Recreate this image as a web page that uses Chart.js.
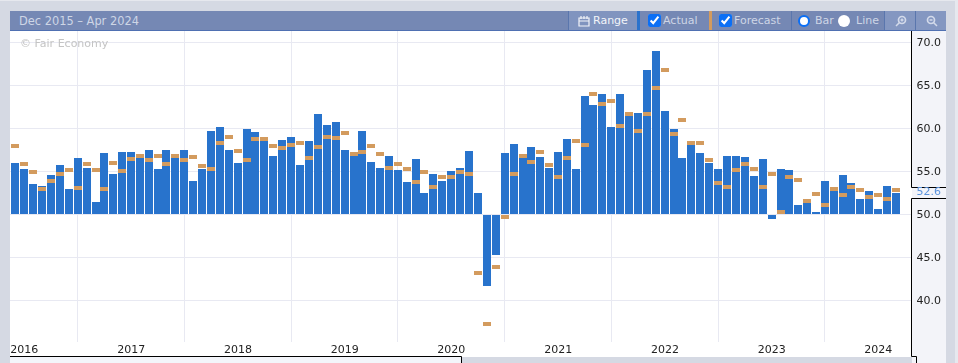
<!DOCTYPE html>
<html><head><meta charset="utf-8">
<script src="https://cdn.jsdelivr.net/npm/chart.js@4"></script>
<style>
html,body{margin:0;padding:0;width:958px;height:363px;overflow:hidden;background:#d5d9e3;font-family:"DejaVu Sans",sans-serif}
.a{position:absolute}
.t{position:absolute;font-size:11px;line-height:14px;top:14px;color:#ced6e6;white-space:nowrap}
.sep{position:absolute;top:11px;width:1px;height:19px;background:#5a76ad}
input[type=checkbox]{position:absolute;top:14px;width:13px;height:13px;margin:0;accent-color:#0b6ff5}
.radio{position:absolute;top:15px;width:12px;height:12px;border-radius:50%;box-sizing:border-box;background:#fff}
svg{position:absolute}
</style></head><body>
<div class="a" style="left:0;top:0;width:958px;height:1px;background:#e6e8ee"></div>
<div class="a" style="left:955px;top:0;width:3px;height:363px;background:#e6e8ee"></div>
<div class="a" style="left:10px;top:31px;width:902px;height:326px;background:#fff"></div>
<div class="a" style="left:912px;top:31px;width:34px;height:332px;background:#f3f4f9"></div>
<div class="a" style="left:10px;top:357px;width:452px;height:6px;background:#f3f5fa"></div>

<div class="a" style="left:10px;top:11px;width:936px;height:19px;background:#7588b4"></div>
<div class="a" style="left:10px;top:30px;width:936px;height:1px;background:#4f70b2"></div>
<div class="t" id="rangeLabel" style="left:19px;font-size:11.4px">Dec 2015 – Apr 2024</div>

<div class="a" style="left:569px;top:11px;width:68px;height:19px;background:#8094bf"></div>
<div class="sep" style="left:568px"></div>
<svg style="left:578px;top:15px" width="12" height="12" viewBox="0 0 12 12"><path d="M1 3h10v8H1zM1 6h10M3 1v3M6 1v3M9 1v3" fill="none" stroke="#f2f4f9" stroke-width="1.2"/></svg>
<div class="t" style="left:593px;color:#f2f4f9">Range</div>
<div class="a" style="left:637px;top:11px;width:3px;height:19px;background:#2a72cc"></div>
<input type="checkbox" checked style="left:648px"><div class="t" style="left:663px">Actual</div>
<div class="a" style="left:709px;top:11px;width:3px;height:19px;background:#d39b5e"></div>
<input type="checkbox" checked style="left:719px"><div class="t" style="left:734px">Forecast</div>
<div class="sep" style="left:791px"></div>
<div class="radio" style="left:798px;border:2.5px solid #0b6ff5"></div><div class="t" style="left:815px">Bar</div>
<div class="radio" style="left:838px"></div><div class="t" style="left:856px">Line</div>
<div class="a" style="left:885px;top:11px;width:30px;height:19px;background:#8497c1"></div>
<div class="a" style="left:916px;top:11px;width:30px;height:19px;background:#8497c1"></div>
<div class="sep" style="left:884px"></div><div class="sep" style="left:915px"></div>
<svg style="left:895px;top:15px" width="12" height="12" viewBox="0 0 12 12"><circle cx="7" cy="5" r="3.5" fill="none" stroke="#d3daea" stroke-width="1.7"/><path d="M4.5 7.5L1 11M5.5 5h3M7 3.5v3" stroke="#d3daea" stroke-width="1.5" fill="none"/></svg>
<svg style="left:926px;top:15px" width="12" height="12" viewBox="0 0 12 12"><circle cx="5" cy="5" r="3.5" fill="none" stroke="#d3daea" stroke-width="1.7"/><path d="M7.5 7.5L11 11M3.5 5h3" stroke="#d3daea" stroke-width="1.5" fill="none"/></svg>

<canvas id="c" class="a" style="left:10px;top:31px" width="936" height="332"></canvas>
<div class="t" style="left:20px;top:37px;color:#c4c4c4">© Fair Economy</div>

<script>
const startYear = 2015, startMonth = 11;
const actual = [
56.0,
55.3,53.6,53.4,54.6,55.8,53.0,56.6,55.5,51.5,57.2,54.8,57.3,
57.3,56.6,57.6,55.3,57.5,56.7,57.5,53.9,55.3,59.8,60.2,57.5,
56.0,60.0,59.6,58.6,56.8,58.7,59.1,55.8,58.6,61.7,60.4,60.8,
57.6,56.8,59.7,56.1,55.5,56.9,55.2,53.8,56.5,52.6,54.7,53.9,
55.1,55.5,57.4,52.5,41.7,45.3,57.2,58.2,56.6,57.9,56.7,55.5,
57.3,58.8,55.3,63.8,62.8,64.0,60.2,64.1,61.5,61.9,66.8,69.1,
62.1,60.0,56.6,58.2,57.2,56.0,55.3,56.8,56.9,56.7,54.5,56.5,
49.5,55.3,55.2,51.2,51.9,50.3,53.9,52.8,54.6,53.7,51.8,52.8,
50.7,53.4,52.6];
const forecast = [
58.0,
55.9,55.0,53.0,53.9,54.7,55.2,53.1,55.9,55.2,53.0,56.0,55.1,
56.5,56.8,56.4,56.8,55.9,56.9,56.4,56.7,55.7,55.3,58.3,59.0,
57.4,56.4,58.8,58.8,58.0,57.8,58.1,58.4,56.6,57.9,59.1,58.9,
59.5,57.1,57.3,58.0,57.1,55.4,55.9,55.3,53.8,55.0,53.3,54.4,
54.4,55.0,54.7,43.3,37.3,44.0,49.8,54.8,56.8,56.1,57.3,55.8,
54.4,56.6,58.6,58.1,64.0,62.9,63.2,60.3,61.7,59.7,61.7,64.7,
66.8,59.4,61.0,58.4,58.3,56.4,53.7,53.3,55.2,55.9,55.3,53.3,
54.8,50.3,54.4,54.1,51.6,52.4,51.1,53.0,52.3,53.3,52.9,52.1,
52.3,51.8,52.9];
const yearTicks = [2016,2017,2018,2019,2020,2021,2022,2023,2024];
const valueTicks = [40,45,50,55,60,65,70];

const times = actual.map((_, i) => Date.UTC(startYear, startMonth + i, 1));
const pts = arr => arr.map((v, i) => ({x: times[i], y: v}));
const blue = '#2873cc', tan = '#d39b5e', grid = '#e8e9f2', ink = '#222222';
const tickFont = {family: '"DejaVu Sans"', size: 11};

const snap = {
  id: 'snap',
  afterDatasetsUpdate(ch) {
    ch.getSortedVisibleDatasetMetas().forEach(m => m.data.forEach(el => {
      el.x = Math.round(el.x);
      el.y = Math.round(el.y);
      if (el.base !== undefined) el.base = Math.round(el.base);
    }));
  }
};

const frame = {
  id: 'frame',
  afterDraw(ch) {
    const c = ch.ctx, ya = ch.scales.y, last = actual[actual.length - 1];
    const py = ya.getPixelForValue(last), xr = 901.5, top = Math.round(py - 6) + .5, bot = Math.round(py + 5) + .5;
    c.save();
    c.strokeStyle = '#000'; c.lineWidth = 1;
    c.beginPath();
    c.moveTo(xr, 0); c.lineTo(xr, top); c.lineTo(936, top);
    c.moveTo(936, bot); c.lineTo(xr, bot); c.lineTo(xr, 325.5); c.lineTo(906.5, 325.5); c.lineTo(906.5, 332);
    c.moveTo(0, 325.5); c.lineTo(451.5, 325.5); c.lineTo(451.5, 332);
    c.stroke();
    c.fillStyle = '#5b93dd'; c.font = '11px "DejaVu Sans"'; c.textBaseline = 'middle'; c.textAlign = 'left';
    c.fillText(last.toFixed(1), 906.5, py);
    c.restore();
  }
};

new Chart(document.getElementById('c'), {
  type: 'bar',
  data: {
    datasets: [
      {type: 'line', data: pts(forecast), showLine: false, pointStyle: 'line', pointRadius: 4, pointHoverRadius: 4,
       pointBorderWidth: 4, pointBorderColor: tan, pointBackgroundColor: tan, order: 1},
      {type: 'bar', data: pts(actual), base: 50, backgroundColor: blue, borderWidth: 0, barThickness: 8, inflateAmount: 0, order: 2}
    ]
  },
  options: {
    responsive: false, animation: false, events: [],
    layout: {padding: 0, autoPadding: false},
    plugins: {legend: {display: false}, tooltip: {enabled: false}},
    scales: {
      x: {
        type: 'linear', offset: false,
        min: Date.UTC(2015, 10, 13), max: Date.UTC(2024, 3, 23, 12),
        afterBuildTicks: s => { s.ticks = yearTicks.map(y => ({value: Date.UTC(y, 0, 1)})); },
        afterFit: s => { s.height = 21.3; s.paddingLeft = 0; s.paddingRight = 0; },
        grid: {color: grid, lineWidth: 1, drawTicks: false},
        border: {display: false},
        ticks: {autoSkip: false, maxRotation: 0, minRotation: 0, padding: 2, color: ink, font: tickFont,
                callback: v => String(new Date(v).getUTCFullYear())}
      },
      y: {
        position: 'right', min: 35.27, max: 71.37,
        afterBuildTicks: s => { s.ticks = valueTicks.map(v => ({value: v})); },
        afterFit: s => { s.width = 34.5; s.paddingTop = 0; s.paddingBottom = 0; },
        grid: {color: grid, lineWidth: 1, drawTicks: false},
        border: {display: false},
        ticks: {padding: 5, crossAlign: 'near', color: ink, font: tickFont, callback: v => v.toFixed(1)}
      }
    }
  },
  plugins: [snap, frame]
});
</script>
</body></html>
